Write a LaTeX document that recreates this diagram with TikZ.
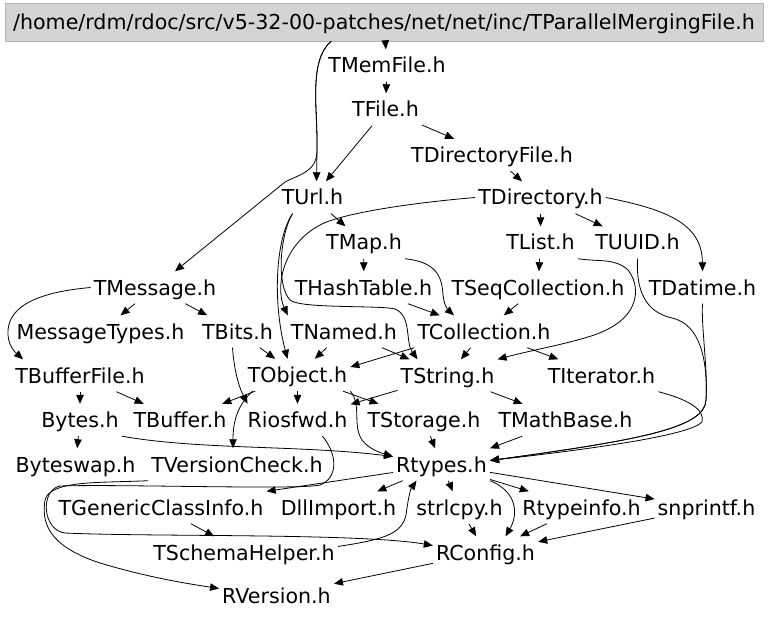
\documentclass[tikz,border=0pt]{standalone}
\usepackage{fontspec}
\setmainfont{DejaVu Sans}
\usetikzlibrary{arrows.meta}

\begin{document}
\begin{tikzpicture}[x=1pt, y=-1pt]
        % Define styles
        \tikzstyle{header} = [inner xsep=3pt, inner ysep=0pt, text height=15pt, text depth=0pt, minimum height=32pt, font=\fontsize{20.6}{24}\selectfont]
        \tikzstyle{rootfile} = [rectangle, minimum width=758pt, minimum height=38pt, draw=black!30, fill=black!17, text height=15pt, text depth=0pt, font=\fontsize{20.6}{24}\selectfont]
        \tikzstyle{arrow} = [line width=0.8pt, -{Triangle[length=9pt, width=7.5pt]}]

        \useasboundingbox (0,0) rectangle (768,620);

        % Nodes
        \node (root) [rootfile] at (384,22) {/home/rdm/rdoc/src/v5-32-00-patches/net/net/inc/TParallelMergingFile.h};
        \node (tmemfile) [header] at (387,65.5) {TMemFile.h};
        \node (tfile) [header] at (385.5,109.5) {TFile.h};
        \node (tdirectoryfile) [header] at (492,155) {TDirectoryFile.h};
        \node (turl) [header] at (312.5,197.5) {TUrl.h};
        \node (tdirectory) [header] at (540.5,197.5) {TDirectory.h};
        \node (tmap) [header] at (364,242.5) {TMap.h};
        \node (tlist) [header] at (540.5,242.5) {TList.h};
        \node (tuuid) [header] at (637.5,242.5) {TUUID.h};
        \node (tmessage) [header] at (155,287.5) {TMessage.h};
        \node (thashtable) [header] at (363.5,287.5) {THashTable.h};
        \node (tseqcollection) [header] at (538,287.5) {TSeqCollection.h};
        \node (tdatime) [header] at (702.5,287.5) {TDatime.h};
        \node (messagetypes) [header] at (100.5,331.5) {MessageTypes.h};
        \node (tbits) [header] at (237.5,331.5) {TBits.h};
        \node (tnamed) [header] at (344,331.5) {TNamed.h};
        \node (tcollection) [header] at (484,331.5) {TCollection.h};
        \node (tbufferfile) [header] at (80,375.5) {TBufferFile.h};
        \node (tobject) [header] at (297.5,375) {TObject.h};
        \node (tstring) [header] at (447.5,375.5) {TString.h};
        \node (titerator) [header] at (601.5,375.5) {TIterator.h};
        \node (bytes) [header] at (80,420) {Bytes.h};
        \node (tbuffer) [header] at (180,420) {TBuffer.h};
        \node (riosfwd) [header] at (297.5,420) {Riosfwd.h};
        \node (tstorage) [header] at (424,420) {TStorage.h};
        \node (tmathbase) [header] at (565.5,420) {TMathBase.h};
        \node (byteswap) [header] at (75.5,464.5) {Byteswap.h};
        \node (tversioncheck) [header] at (237,464.5) {TVersionCheck.h};
        \node (rtypes) [header] at (441.5,464.5) {Rtypes.h};
        \node (tgenericclassinfo) [header] at (161,507.5) {TGenericClassInfo.h};
        \node (dllimport) [header] at (338.5,507.5) {DllImport.h};
        \node (strlcpy) [header] at (459.5,507.5) {strlcpy.h};
        \node (rtypeinfo) [header] at (581.5,507.5) {Rtypeinfo.h};
        \node (snprintf) [header] at (706.5,507.5) {snprintf.h};
        \node (tschemahelper) [header] at (244,552.5) {TSchemaHelper.h};
        \node (rconfig) [header] at (485.5,552.5) {RConfig.h};
        \node (rversion) [header] at (276.5,595.5) {RVersion.h};

        % Arrows
        \draw [arrow] (root) -- (tmemfile);
        \draw [arrow] ([xshift=-53pt]root.south) .. controls (308,62) and (318,110) .. (317,150) -- ([xshift=4pt]turl.north);
        \draw [arrow] ([xshift=-53pt]root.south) .. controls (308,62) and (318,110) .. (317,150) .. controls (317,172) and (300,174) .. (285,182) -- (tmessage);
        \draw [arrow] (tmemfile) -- (tfile);
        \draw [arrow] (tfile) -- (turl);
        \draw [arrow] (tfile) -- (tdirectoryfile);
        \draw [arrow] (tdirectoryfile) -- (tdirectory);
        \draw [arrow] (turl) -- (tmap);
        \draw [arrow] ([xshift=-20pt]turl.south) .. controls (276,238) and (272,300) .. ([xshift=-10pt]tobject.north);
        \draw [arrow] ([xshift=-20pt]turl.south) .. controls (280,235) and (276,285) .. (290,300) .. controls (300,309) and (380,305) .. (395,309) .. controls (412,316) and (405,342) .. ([xshift=-30pt]tstring.north);
        \draw [arrow] (tdirectory.west) .. controls (410,203) and (345,213) .. (322,224) .. controls (280,245) and (276,290) .. (tnamed.north west);
        \draw [arrow] (tdirectory) -- (tlist);
        \draw [arrow] (tdirectory) -- (tuuid);
        \draw [arrow] (tdirectory.east) .. controls (670,210) and (702,225) .. (tdatime.north);
        \draw [arrow] (tmap) -- (thashtable);
        \draw [arrow] (tmap.south east) .. controls (435,262) and (442,275) .. (443,295) .. controls (444,305) and (448,310) .. ([xshift=-30pt]tcollection.north);
        \draw [arrow] (tlist) -- (tseqcollection);
        \draw [arrow] (tlist.south east) .. controls (600,262) and (615,258) .. (628,270) .. controls (640,285) and (640,312) .. (610,328) .. controls (590,340) and (540,348) .. (tstring.north east);
        \draw [arrow] (tuuid.south) .. controls (636,290) and (645,312) .. (672,318) .. controls (700,324) and (708,360) .. (706,400) .. controls (705,428) and (640,440) .. ([yshift=4pt]rtypes.east);
        \draw [arrow] (tdatime.south) .. controls (701,325) and (708,370) .. (706,400) .. controls (705,428) and (640,440) .. ([yshift=4pt]rtypes.east);
        \draw [arrow] (tmessage.west) .. controls (40,292) and (10,305) .. (8,330) .. controls (7,345) and (15,352) .. ([xshift=-57pt]tbufferfile.north);
        \draw [arrow] (tmessage) -- (messagetypes);
        \draw [arrow] (tmessage) -- (tbits);
        \draw [arrow] (thashtable) -- (tcollection);
        \draw [arrow] (tseqcollection) -- (tcollection);
        \draw [arrow] (tbits) -- (tobject);
        \draw [arrow] ([xshift=-5pt]tbits.south) .. controls (234,368) and (238,385) .. ([xshift=-50pt]riosfwd.north);
        \draw [arrow] (tnamed) -- (tobject);
        \draw [arrow] (tnamed) -- (tstring);
        \draw [arrow] (tcollection.south west) -- ([yshift=8pt]tobject.east);
        \draw [arrow] (tcollection) -- (tstring);
        \draw [arrow] (tcollection) -- (titerator);
        \draw [arrow] (tbufferfile) -- (bytes);
        \draw [arrow] (tbufferfile) -- (tbuffer);
        \draw [arrow] (tobject) -- (tbuffer);
        \draw [arrow] (tobject) -- (riosfwd);
        \draw [arrow] (tobject) -- (tstorage);
        \draw [arrow] ([xshift=-45pt]tobject.south) .. controls (238,405) and (233,420) .. ([xshift=-4pt]tversioncheck.north);
        \draw [arrow] (tobject.south east) .. controls (362,405) and (352,425) .. (362,440) .. controls (368,448) and (378,452) .. ([yshift=8pt]rtypes.west);
        \draw [arrow] (tstring) -- (riosfwd);
        \draw [arrow] (tstring) -- (tmathbase);
        \draw [arrow] (titerator.south east) .. controls (690,400) and (705,410) .. (702,422) .. controls (690,435) and (600,448) .. ([yshift=4pt]rtypes.east);
        \draw [arrow] (bytes) -- (byteswap);
        \draw [arrow] (bytes.south east) .. controls (200,450) and (300,445) .. ([yshift=8pt]rtypes.west);
        \draw [arrow] ([xshift=25pt]riosfwd.south) .. controls (338,455) and (338,478) .. (320,485) .. controls (300,490) and (120,484) .. (60,486) .. controls (40,490) and (42,530) .. (65,533) .. controls (150,537) and (360,533) .. ([yshift=7pt]rconfig.west);
        \draw [arrow] (tstorage) -- (rtypes);
        \draw [arrow] (tmathbase) -- (rtypes.north east);
        \draw [arrow] (tversioncheck.south west) .. controls (100,483) and (50,480) .. (45,500) .. controls (42,520) and (45,545) .. (100,563) .. controls (150,578) and (190,584) .. ([yshift=7pt]rversion.west);
        \draw [arrow] ([yshift=-8pt]rtypes.west) -- (tgenericclassinfo.north east);
        \draw [arrow] (rtypes) -- (dllimport);
        \draw [arrow] (rtypes) -- (strlcpy);
        \draw [arrow] (rtypes) -- (rtypeinfo);
        \draw [arrow] (rtypes) -- (snprintf);
        \draw [arrow] (rtypes.south east) .. controls (518,492) and (518,515) .. ([xshift=20pt]rconfig.north);
        \draw [arrow] (tgenericclassinfo) -- (tschemahelper);
        \draw [arrow] ([yshift=6pt]tschemahelper.east) .. controls (380,540) and (402,535) .. (406,515) .. controls (408,500) and (410,490) .. ([xshift=-25pt]rtypes.south);
        \draw [arrow] (strlcpy) -- (rconfig);
        \draw [arrow] (rtypeinfo) -- (rconfig);
        \draw [arrow] (snprintf) -- (rconfig);
        \draw [arrow] (rconfig) -- (rversion);
    \end{tikzpicture}
\end{document}
